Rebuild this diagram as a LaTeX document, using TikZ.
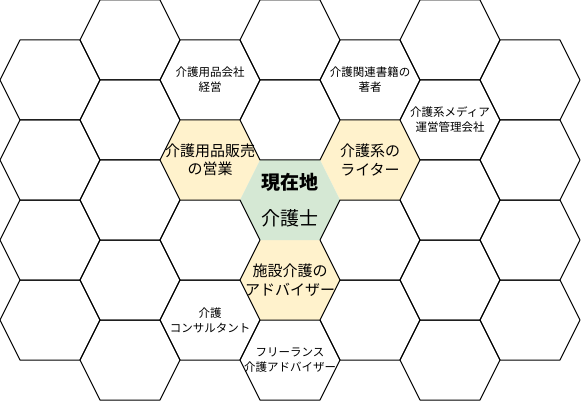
\documentclass[tikz,border=0pt]{standalone}
\usepackage{fontspec}
\setmainfont{Noto Sans CJK JP}
\definecolor{careyellow}{HTML}{FFF2CC}
\definecolor{caregreen}{HTML}{D5E8D4}
\newcommand{\hexcell}{(-50,0) -- (-30,-40) -- (30,-40) -- (50,0) -- (30,40) -- (-30,40) -- cycle}
\begin{document}
\begin{tikzpicture}[x=1pt, y=-1pt,
  cell/.style={draw=black, line width=1pt, line join=round},
  small/.style={align=center, font=\fontsize{11.5}{15}\selectfont},
  medium/.style={align=center, font=\fontsize{15}{18.5}\selectfont},
  big/.style={align=center, font=\fontsize{19}{36}\selectfont}]
    \useasboundingbox (0,0) rectangle (581,401);

    % Coloured cells
    \foreach \cx/\cy in {210/160, 370/160, 290/280} {
      \fill[careyellow, shift={(\cx,\cy)}] \hexcell;
    }
    \fill[caregreen, shift={(290,200)}] \hexcell;

    % Plain cells
    \foreach \cx/\rows in {50/{80,160,240,320}, 130/{40,120,200,280,360},
                           210/{80,240,320}, 290/{40,120,360}, 370/{80,240,320},
                           450/{40,120,200,280,360}, 530/{80,160,240,320}} {
      \foreach \cy in \rows {
        \draw[cell, shift={(\cx,\cy)}] \hexcell;
      }
    }

    % Current position
    \node[big] (genzai) at (290,200) {\textbf{現在地}\\介護士};

    % Next steps
    \node[medium] (eigyo) at (210,160) {介護用品販売\\の営業};
    \node[medium] (writer) at (370,160) {介護系の\\ライター};
    \node[medium] (advisor) at (290,280) {施設介護の\\アドバイザー};

    % Further steps
    \node[small] (kaisha) at (210,80) {介護用品会社\\経営};
    \node[small] (shoseki) at (370,80) {介護関連書籍の\\著者};
    \node[small] (media) at (450,120) {介護系メディア\\運営管理会社};
    \node[small] (consul) at (210,320) {介護\\コンサルタント};
    \node[small] (freelance) at (290,360) {フリーランス\\介護アドバイザー};
  \end{tikzpicture}
\end{document}
